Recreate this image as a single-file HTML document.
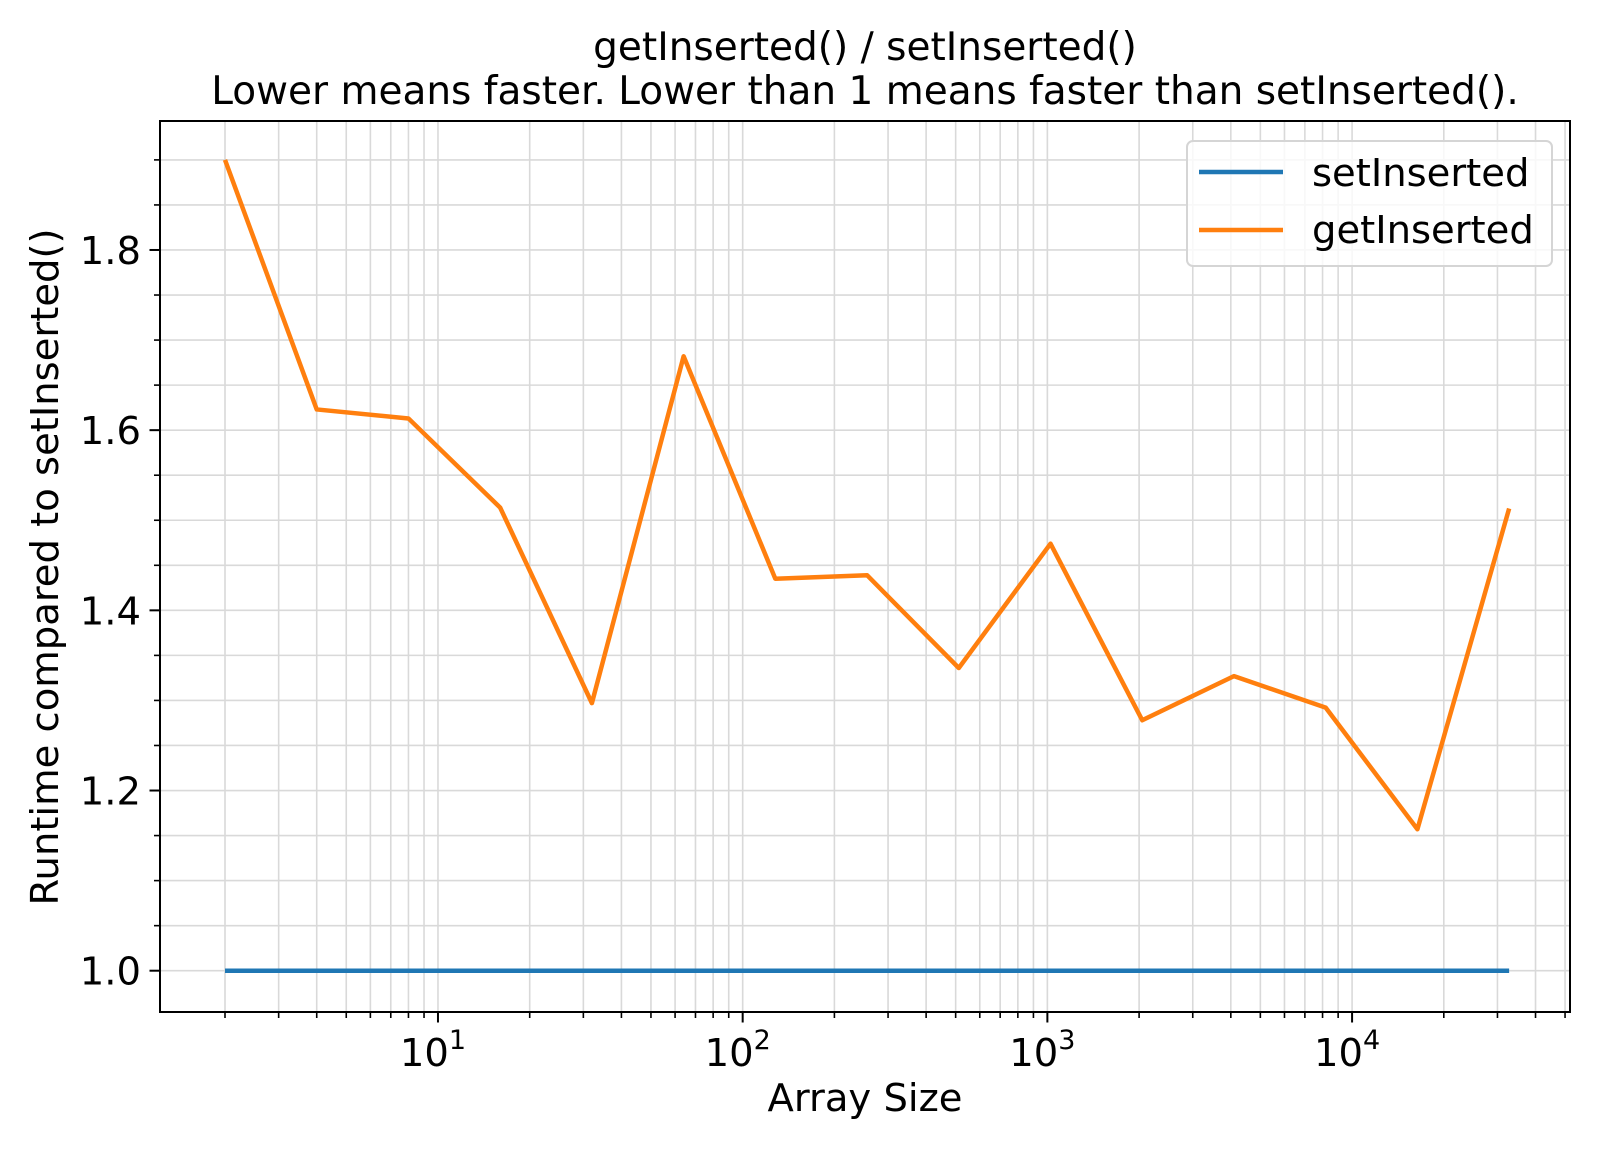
<!DOCTYPE html>
<html><head><meta charset="utf-8"><style>
html,body{margin:0;padding:0;background:#fff}
svg{display:block;font-family:"DejaVu Sans","Liberation Sans",sans-serif}
</style></head><body>
<svg id="chart" width="1600" height="1150" viewBox="0 0 1600 1150">
<rect width="1600" height="1150" fill="#fff"/>
<g id="grid"></g>
<g id="series"></g>
<g id="axes"></g>
<text x="865" y="60" font-size="39" text-anchor="middle">getInserted() / setInserted()</text>
<text x="865" y="104" font-size="39" text-anchor="middle">Lower means faster. Lower than 1 means faster than setInserted().</text>
<text x="865" y="1111" font-size="38.5" text-anchor="middle">Array Size</text>
<text transform="translate(58,567) rotate(-90)" font-size="38.5" text-anchor="middle">Runtime compared to setInserted()</text>
<g>
<rect x="1187" y="141" width="365" height="125" rx="6" fill="#fff" fill-opacity="0.8" stroke="#d5d5d5" stroke-width="2"/>
<line x1="1199" y1="172" x2="1283" y2="172" stroke="#1f77b4" stroke-width="4.5"/>
<text x="1312" y="186" font-size="38.5">setInserted</text>
<line x1="1199" y1="230" x2="1283" y2="230" stroke="#ff7f0e" stroke-width="4.5"/>
<text x="1312" y="243" font-size="38.5">getInserted</text>
</g>
</svg>
<script>
const sizes=[2,4,8,16,32,64,128,256,512,1024,2048,4096,8192,16384,32768];
const setInserted=[1,1,1,1,1,1,1,1,1,1,1,1,1,1,1];
const getInserted=[1.9,1.623,1.613,1.514,1.297,1.682,1.435,1.439,1.336,1.474,1.278,1.327,1.292,1.157,1.513];
const yTicks=[1.0,1.2,1.4,1.6,1.8];
const xDecades=[1,2,3,4];

const L=160,R=1570,T=121,B=1012;
const ppd=304.7, x0=225;
const X=v=>x0+(Math.log10(v)-Math.log10(2))*ppd;
const Y=v=>970.7-(v-1.0)*900.9;
const NS='http://www.w3.org/2000/svg';
function mk(tag,attrs,parent){const e=document.createElementNS(NS,tag);for(const k in attrs)e.setAttribute(k,attrs[k]);parent.appendChild(e);return e;}
const grid=document.getElementById('grid'),axes=document.getElementById('axes'),ser=document.getElementById('series');
for(let d=0;d<=4;d++){for(let m=1;m<=9;m++){const v=m*Math.pow(10,d);const x=X(v);if(x<L||x>R)continue;
 const g=mk('line',{x1:x,x2:x,y1:T,y2:B,stroke:'#d9d9d9','stroke-width':1.6},grid);
 
 
 const t=mk('line',{x1:x,x2:x,y1:B,y2:B+(m===1?10.5:6),stroke:'#000','stroke-width':m===1?2:1.6},axes);
 
 }}
for(let i=0;i<=20;i++){const v=0.95+i*0.05;const y=Y(v);if(y<T||y>B)continue;const major=Math.abs((v*10)%2)<0.01||Math.abs((v*10)%2-2)<0.01;
 const g=mk('line',{x1:L,x2:R,y1:y,y2:y,stroke:'#d9d9d9','stroke-width':1.6},grid);
 
 
 const t=mk('line',{x1:L-(major?10.5:6),x2:L,y1:y,y2:y,stroke:'#000','stroke-width':major?2:1.6},axes);
 
 }
yTicks.forEach(v=>{const t=mk('text',{x:L-19,y:Y(v)+14,'font-size':38.5,'text-anchor':'end'},axes);t.textContent=v.toFixed(1);
 
 });
xDecades.forEach(d=>{const x=X(Math.pow(10,d));const t=mk('text',{x:x-5,y:B+54,'font-size':38.5,'text-anchor':'middle'},axes);
 t.textContent='10';const s=mk('tspan',{dy:-17,'font-size':27},t);s.textContent=d;
 
 });
const frame=mk('rect',{x:L,y:T,width:R-L,height:B-T,fill:'none',stroke:'#000','stroke-width':2},axes);


function line(vals,color,name){const p=mk('polyline',{points:sizes.map((s,i)=>X(s)+','+Y(vals[i])).join(' '),fill:'none',stroke:color,'stroke-width':4.5,'stroke-linejoin':'round'},ser);
 
 }
line(setInserted,'#1f77b4','setinserted-line');
line(getInserted,'#ff7f0e','getinserted-line');
</script>
</body></html>
